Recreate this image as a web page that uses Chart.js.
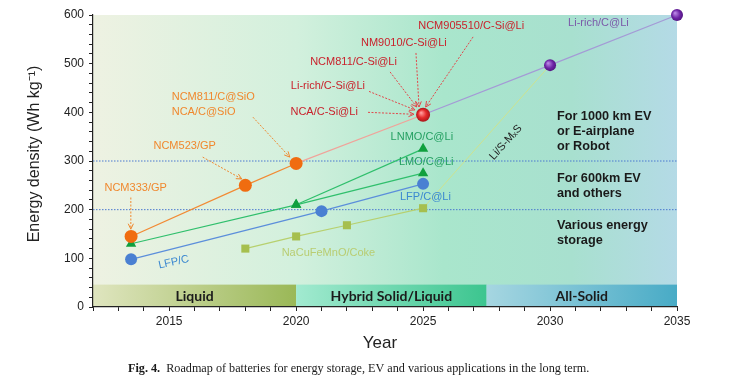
<!DOCTYPE html>
<html>
<head>
<meta charset="utf-8">
<script src="https://cdn.jsdelivr.net/npm/chart.js@4"></script>
<style>
  html, body { margin: 0; padding: 0; background: #fff; }
</style>
</head>
<body>
<canvas id="roadmap" width="739" height="386"></canvas>
<script>
// roadmap of battery energy density, drawn with Chart.js

// --- data ---
const ncmYears = [2013.5, 2018, 2020];
const ncmValues = [145, 250, 295];
const siYears = [2020, 2025];
const siValues = [295, 395];
const siliconYears = [2025];
const siliconValues = [395];
const richYears = [2025, 2030, 2035];
const richValues = [395, 497, 600];
const lmoYears = [2013.5, 2020, 2025];
const lmoValues = [130, 210, 275];
const lnmoYears = [2020, 2025];
const lnmoValues = [210, 325];
const lfpYears = [2013.5, 2021, 2025];
const lfpValues = [98, 197, 253];
const naYears = [2018, 2020, 2022, 2025];
const naValues = [120, 145, 168, 203];
const lisYears = [2025, 2030];
const lisValues = [203, 497];
const refLevels = [200, 300];

const yearMin = 2012;
const yearMax = 2035;
const densityMin = 0;
const densityMax = 600;

const bandLabels = ["Liquid", "Hybrid Solid/Liquid", "All-Solid"];
const bandStarts = [2012, 2020, 2027.5];
const bandEnds = [2020, 2027.5, 2035];
const bandTop = 46;

const SANS = "'Liberation Sans', Arial, sans-serif";

function pts(xs, ys) {
  return xs.map((x, i) => ({ x: x, y: ys[i] }));
}

// shaded ball for the big markers
function ballFill(light, mid, dark) {
  return (c) => {
    if (!c.parsed) return mid;
    const sx = c.chart.scales.x, sy = c.chart.scales.y;
    if (!sx || !sy) return mid;
    const px = sx.getPixelForValue(c.parsed.x);
    const py = sy.getPixelForValue(c.parsed.y);
    if (!isFinite(px) || !isFinite(py)) return mid;
    const g = c.chart.ctx.createRadialGradient(px - 2, py - 2, 0.5, px, py, 7);
    g.addColorStop(0, light);
    g.addColorStop(0.55, mid);
    g.addColorStop(1, dark);
    return g;
  };
}

// text labels (data units)
const notes = [
  { text: "NCM333/GP", x: 2013.68, y: 245, align: "center", color: "#f0882e" },
  { text: "NCM523/GP", x: 2015.61, y: 331, align: "center", color: "#f0882e" },
  { text: "NCM811/C@SiO", x: 2015.1, y: 432, align: "left", color: "#f0882e" },
  { text: "NCA/C@SiO", x: 2015.1, y: 401, align: "left", color: "#f0882e" },
  { text: "NCA/C-Si@Li", x: 2022.43, y: 400, align: "right", color: "#c9222c" },
  { text: "Li-rich/C-Si@Li", x: 2022.71, y: 454, align: "right", color: "#c9222c" },
  { text: "NCM811/C-Si@Li", x: 2023.97, y: 504, align: "right", color: "#c9222c" },
  { text: "NM9010/C-Si@Li", x: 2025.93, y: 543, align: "right", color: "#c9222c" },
  { text: "NCM905510/C-Si@Li", x: 2028.98, y: 577, align: "right", color: "#c9222c" },
  { text: "LNMO/C@Li", x: 2023.72, y: 350, align: "left", color: "#25a062" },
  { text: "LMO/C@Li", x: 2024.05, y: 297, align: "left", color: "#25a062" },
  { text: "LFP/C@Li", x: 2024.09, y: 226, align: "left", color: "#3b88d0" },
  { text: "LFP/C", x: 2015.18, y: 92, align: "center", color: "#3b88d0", rot: -12 },
  { text: "NaCuFeMnO/Coke", x: 2019.43, y: 110, align: "left", color: "#b9cd72" },
  { text: "Li/S-M\u2093S", x: 2028.26, y: 338, align: "center", color: "#222", rot: -48 },
  { text: "Li-rich/C@Li", x: 2030.71, y: 584, align: "left", color: "#7b5aa9" },
];

const useNotes = [
  { lines: ["For 1000 km EV", "or E-airplane", "or Robot"], x: 2030.27, y: 392 },
  { lines: ["For 600km EV", "and others"], x: 2030.27, y: 265 },
  { lines: ["Various energy", "storage"], x: 2030.27, y: 168 },
];

const arrows = [
  { from: [2013.49, 225], to: [2013.49, 160], color: "#f0882e" },
  { from: [2016.32, 308], to: [2017.86, 263], color: "#f0882e" },
  { from: [2018.3, 390], to: [2019.75, 308], color: "#f0882e" },
  { from: [2022.83, 400], to: [2024.64, 396], color: "#e2474a" },
  { from: [2022.87, 443], to: [2024.68, 405], color: "#e2474a" },
  { from: [2023.7, 483], to: [2024.75, 411], color: "#e2474a" },
  { from: [2024.72, 522], to: [2024.84, 411], color: "#e2474a" },
  { from: [2026.97, 555], to: [2025.1, 411], color: "#e2474a" },
];

function drawArrow(ctx, x1, y1, x2, y2, color) {
  ctx.save();
  ctx.strokeStyle = color;
  ctx.lineWidth = 1;
  ctx.setLineDash([2, 1.5]);
  ctx.beginPath();
  ctx.moveTo(x1, y1);
  ctx.lineTo(x2, y2);
  ctx.stroke();
  ctx.setLineDash([]);
  const a = Math.atan2(y2 - y1, x2 - x1);
  const h = 6;
  ctx.beginPath();
  ctx.moveTo(x2 - h * Math.cos(a - 0.45), y2 - h * Math.sin(a - 0.45));
  ctx.lineTo(x2, y2);
  ctx.lineTo(x2 - h * Math.cos(a + 0.45), y2 - h * Math.sin(a + 0.45));
  ctx.stroke();
  ctx.restore();
}

const roadmapDecor = {
  id: "roadmapDecor",
  beforeDraw(chart) {
    const { ctx, chartArea: area, scales } = chart;
    ctx.save();
    // background wash
    const bg = ctx.createLinearGradient(area.left, 0, area.right, 0);
    bg.addColorStop(0, "#eef2e2");
    bg.addColorStop(0.35, "#d2f0dd");
    bg.addColorStop(0.6, "#a9e6cc");
    bg.addColorStop(0.82, "#a8e0cf");
    bg.addColorStop(1, "#b4dae6");
    ctx.fillStyle = bg;
    ctx.fillRect(area.left, area.top, area.right - area.left, area.bottom - area.top);

    // electrolyte bands
    const bandColors = [
      ["#dfe5bf", "#9ab857"],
      ["#a2ead0", "#3cc58f"],
      ["#a6d6e1", "#48abc6"],
    ];
    const yTop = scales.y.getPixelForValue(bandTop);
    const yBot = scales.y.getPixelForValue(0);
    bandLabels.forEach((label, i) => {
      const x0 = scales.x.getPixelForValue(bandStarts[i]);
      const x1 = scales.x.getPixelForValue(bandEnds[i]);
      const g = ctx.createLinearGradient(x0, 0, x1, 0);
      g.addColorStop(0, bandColors[i][0]);
      g.addColorStop(1, bandColors[i][1]);
      ctx.fillStyle = g;
      ctx.fillRect(x0, yTop, x1 - x0, yBot - yTop);
      ctx.fillStyle = "#1b1b1b";
      ctx.font = "bold 14px Lato, 'Open Sans', sans-serif";
      ctx.textAlign = "center";
      ctx.textBaseline = "middle";
      ctx.fillText(label, (x0 + x1) / 2, (yTop + yBot) / 2 + 1);
    });
    ctx.restore();
  },
  afterDatasetsDraw(chart) {
    const { ctx, scales } = chart;
    const X = (v) => scales.x.getPixelForValue(v);
    const Y = (v) => scales.y.getPixelForValue(v);

    arrows.forEach((a) => drawArrow(ctx, X(a.from[0]), Y(a.from[1]), X(a.to[0]), Y(a.to[1]), a.color));

    ctx.save();
    ctx.textBaseline = "middle";
    notes.forEach((n) => {
      ctx.save();
      ctx.font = "11px " + SANS;
      ctx.fillStyle = n.color;
      ctx.textAlign = n.align;
      ctx.translate(X(n.x), Y(n.y));
      if (n.rot) ctx.rotate((n.rot * Math.PI) / 180);
      ctx.fillText(n.text, 0, 0);
      ctx.restore();
    });

    ctx.font = "bold 12.7px " + SANS;
    ctx.fillStyle = "#1a1a1a";
    ctx.textAlign = "left";
    useNotes.forEach((u) => {
      u.lines.forEach((line, i) => {
        ctx.fillText(line, X(u.x), Y(u.y) + i * 15);
      });
    });
    ctx.restore();
  },
  afterDraw(chart) {
    const { ctx } = chart;
    ctx.save();
    // axis titles
    ctx.fillStyle = "#222";
    ctx.textAlign = "center";
    ctx.textBaseline = "middle";
    ctx.font = "17px " + SANS;
    ctx.fillText("Year", 380, 343);
    ctx.translate(35, 154);
    ctx.rotate(-Math.PI / 2);
    ctx.font = "16px " + SANS;
    ctx.fillText("Energy density (Wh kg\u207B\u00B9)", 0, 0);
    ctx.restore();

    // figure caption
    ctx.save();
    ctx.fillStyle = "#1a1a1a";
    ctx.textBaseline = "middle";
    ctx.textAlign = "left";
    ctx.font = "bold 12.2px 'Liberation Serif', serif";
    const head = "Fig. 4.";
    ctx.fillText(head, 128, 369);
    const w = ctx.measureText(head).width;
    ctx.font = "12.2px 'Liberation Serif', serif";
    ctx.fillText("Roadmap of batteries for energy storage, EV and various applications in the long term.", 128 + w + 6, 369);
    ctx.restore();
  },
};

function lineSet(data, lineColor, extra) {
  return Object.assign(
    {
      data: data,
      borderColor: lineColor,
      borderWidth: 1.2,
      tension: 0,
      pointRadius: 0,
      showLine: true,
      fill: false,
      clip: false,
    },
    extra || {}
  );
}

const datasets = [
  lineSet(pts(siliconYears, siliconValues), "rgba(0,0,0,0)", {
    showLine: false,
    pointRadius: 7,
    pointBorderWidth: 0,
    pointBackgroundColor: ballFill("#ff9a9a", "#e42a2a", "#a8161a"),
  }),
  lineSet(pts(richYears, richValues), "#a49ad6", {
    pointRadius: [0, 6, 6],
    pointBorderWidth: 0,
    pointBackgroundColor: ballFill("#b884e4", "#6d24a6", "#4b1075"),
  }),
  lineSet(pts(ncmYears, ncmValues), "#f28a33", {
    pointRadius: 6.5,
    pointBorderWidth: 0,
    pointBackgroundColor: "#f06c10",
  }),
  lineSet(pts(lmoYears, lmoValues), "#2fbf6c", {
    pointStyle: "triangle",
    pointRadius: 6,
    pointBorderWidth: 0,
    pointBackgroundColor: "#10a03e",
  }),
  lineSet(pts(lnmoYears, lnmoValues), "#2fbf6c", {
    pointStyle: "triangle",
    pointRadius: 6,
    pointBorderWidth: 0,
    pointBackgroundColor: "#10a03e",
  }),
  lineSet(pts(lfpYears, lfpValues), "#5b8edb", {
    pointRadius: 6,
    pointBorderWidth: 0,
    pointBackgroundColor: "#4a80d2",
  }),
  lineSet(pts(naYears, naValues), "#b7d06e", {
    pointStyle: "rect",
    pointRadius: 5.7,
    pointBorderWidth: 0,
    pointBackgroundColor: "#a6bf4e",
  }),
  lineSet(pts(siYears, siValues), "#f0a39a"),
  lineSet(pts(lisYears, lisValues), "#cde38f", { borderWidth: 1 }),
];

refLevels.forEach((level) => {
  datasets.push(
    lineSet(pts([yearMin, yearMax], [level, level]), "#4a78d0", {
      borderWidth: 1,
      borderDash: [1.5, 1.5],
    })
  );
});

const majorOnly = (step) => (value) => (value % step === 0 ? value : "");

new Chart(document.getElementById("roadmap"), {
  type: "scatter",
  data: { datasets: datasets },
  options: {
    responsive: false,
    animation: false,
    layout: { padding: { left: 0, right: 62, top: 15, bottom: 0 } },
    plugins: {
      legend: { display: false },
      tooltip: { enabled: false },
    },
    scales: {
      x: {
        type: "linear",
        min: yearMin,
        max: yearMax,
        afterFit: (scale) => {
          scale.height = 79;
        },
        border: { color: "#222", width: 1.2 },
        grid: { drawOnChartArea: false, tickLength: 4, color: "#222" },
        ticks: {
          stepSize: 1,
          autoSkip: false,
          maxRotation: 0,
          padding: 3,
          color: "#222",
          font: { family: SANS, size: 12 },
          callback: majorOnly(5),
        },
      },
      y: {
        min: densityMin,
        max: densityMax,
        afterFit: (scale) => {
          scale.width = 93;
        },
        border: { color: "#222", width: 1.2 },
        grid: { drawOnChartArea: false, tickLength: 4, color: "#222" },
        ticks: {
          stepSize: 20,
          autoSkip: false,
          padding: 5,
          color: "#222",
          font: { family: SANS, size: 12 },
          callback: majorOnly(100),
        },
      },
    },
  },
  plugins: [roadmapDecor],
});
</script>
</body>
</html>
